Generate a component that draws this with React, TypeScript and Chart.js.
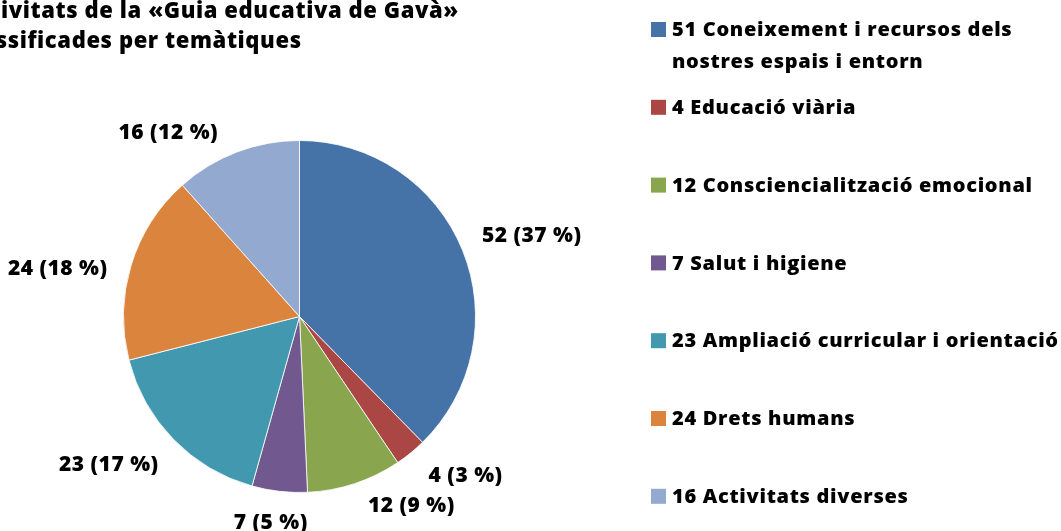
import React, { useEffect, useRef } from "react";
import { Chart, registerables } from "chart.js";

Chart.register(...registerables);

const titleLines = ["Activitats de la «Guia educativa de Gavà»", "classificades per temàtiques"];
const categories = [
  "Coneixement i recursos dels nostres espais i entorn",
  "Educació viària",
  "Consciencialització emocional",
  "Salut i higiene",
  "Ampliació curricular i orientació",
  "Drets humans",
  "Activitats diverses",
];
const legendCounts = [51, 4, 12, 7, 23, 24, 16];
const values = [52, 4, 12, 7, 23, 24, 16];
const percentLabels = ["37 %", "3 %", "9 %", "5 %", "17 %", "18 %", "12 %"];
const colors = ["#4572A7", "#AA4643", "#89A54E", "#71588F", "#4198AF", "#DB843D", "#93A9CF"];
// small angular adjustments (degrees) of the outside labels, like a best-fit placement
const labelAngleNudge = [0, -2, -7, 0, 0, -4, -8];

const FAMILY = "'Open Sans'";

function wrap(ctx: CanvasRenderingContext2D, text: string, maxW: number): string[] {
  const words = text.split(" ");
  const lines: string[] = [];
  let cur = "";
  for (const w of words) {
    const test = cur ? cur + " " + w : w;
    if (ctx.measureText(test).width > maxW && cur) {
      lines.push(cur);
      cur = w;
    } else cur = test;
  }
  if (cur) lines.push(cur);
  return lines;
}

export default function App() {
  const ref = useRef<HTMLCanvasElement>(null);
  useEffect(() => {
    document.body.style.margin = "0";
    const canvas = ref.current!;
    const overlay = {
      id: "overlay",
      afterDraw(chart: any) {
        const c: any = chart.ctx;
        c.save();
        c.fillStyle = "#000";
        // title
        c.font = `800 22px ${FAMILY}`;
        c.letterSpacing = "0.6px";
        c.textAlign = "left";
        c.textBaseline = "alphabetic";
        const tx = 1 - c.measureText("Act").width;
        titleLines.forEach((t, i) => c.fillText(t, tx, 18 + i * 30));
        // data labels
        c.font = `800 21px ${FAMILY}`;
        c.letterSpacing = "0.5px";
        const meta = chart.getDatasetMeta(0);
        const clamp = (v: number) => Math.max(-1, Math.min(1, v));
        meta.data.forEach((arc: any, i: number) => {
          const p = arc.getProps(["x", "y", "startAngle", "endAngle", "outerRadius"], true);
          const mid = (p.startAngle + p.endAngle) / 2 + (labelAngleNudge[i] * Math.PI) / 180;
          const dx = Math.cos(mid);
          const dy = Math.sin(mid);
          const D = p.outerRadius + 21;
          const px = p.x + dx * D;
          const py = p.y + dy * D;
          const text = `${values[i]} (${percentLabels[i]})`;
          const w = c.measureText(text).width;
          const h = 22;
          c.textAlign = "center";
          c.textBaseline = "middle";
          c.fillText(text, px + (w / 2) * clamp(dx * 1.5), py + (h / 2) * clamp(dy * 1.5));
        });
        // legend
        c.font = `800 20px ${FAMILY}`;
        c.letterSpacing = "0.7px";
        c.textAlign = "left";
        c.textBaseline = "middle";
        categories.forEach((cat, i) => {
          const yc = 29.5 + i * 77.8;
          c.fillStyle = colors[i];
          c.fillRect(651, yc - 7.5, 15, 15);
          c.fillStyle = "#000";
          const lines = wrap(c, `${legendCounts[i]} ${cat}`, 1061 - 672);
          lines.forEach((ln, j) => c.fillText(ln, 672, yc + 1 + j * 32));
        });
        c.restore();
      },
    };
    const chart = new Chart(canvas, {
      type: "pie",
      data: {
        labels: categories,
        datasets: [
          {
            data: values,
            backgroundColor: colors,
            borderColor: "rgba(255,255,255,0.8)",
            borderWidth: 1,
          },
        ],
      },
      options: {
        responsive: false,
        animation: false,
        devicePixelRatio: 1,
        layout: { padding: { left: 123, top: 140, right: 585, bottom: 38 } },
        plugins: {
          legend: { display: false },
          title: { display: false },
          tooltip: { enabled: false },
        },
      },
      plugins: [overlay],
    });
    return () => chart.destroy();
  }, []);
  return <canvas ref={ref} width={1061} height={531} style={{ display: "block" }} />;
}
